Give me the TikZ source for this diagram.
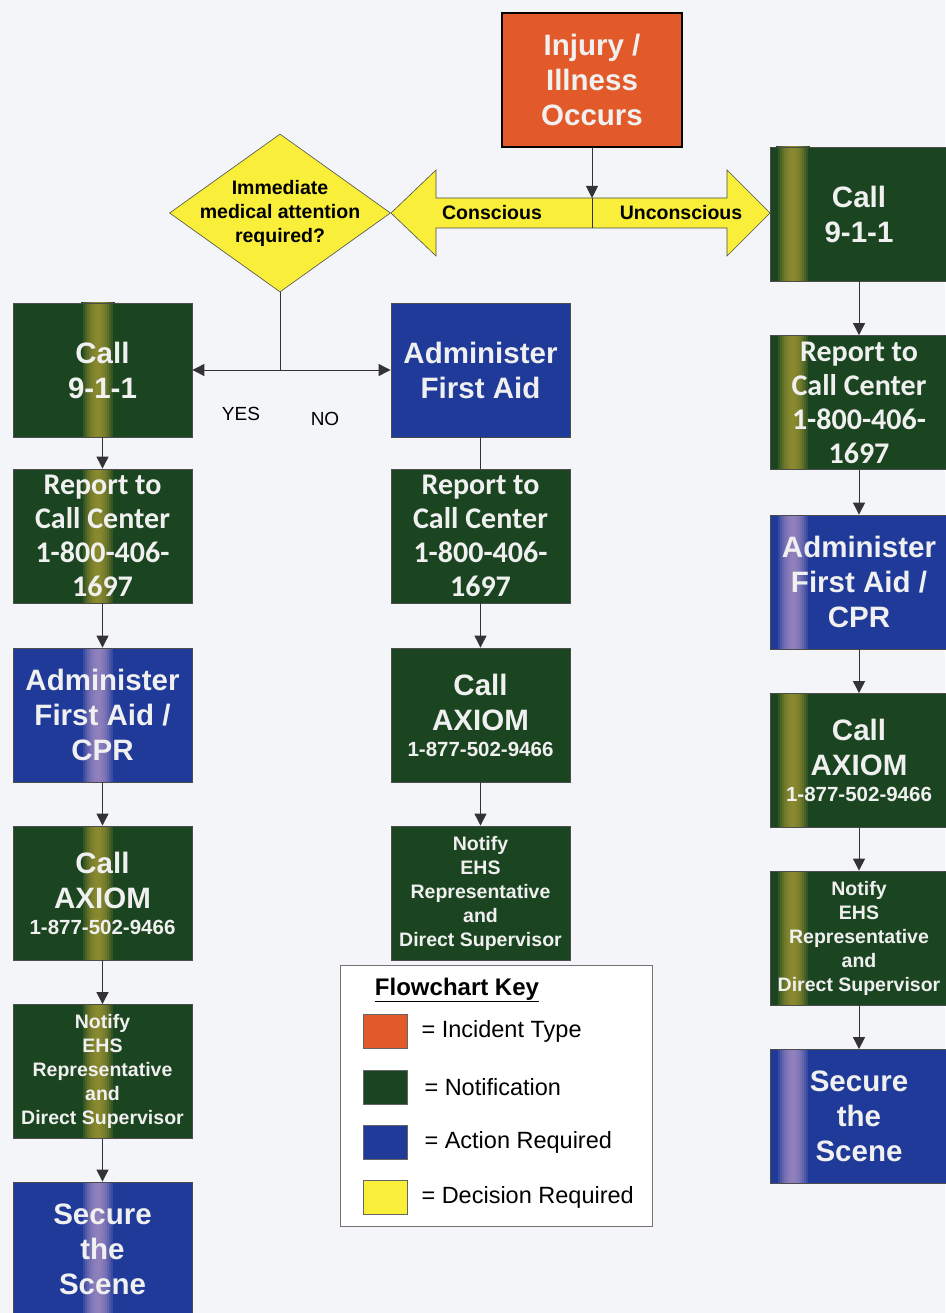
\documentclass[tikz,border=0pt]{standalone}
\usepackage{fontspec}
\setmainfont{Liberation Sans}
\newfontfamily\calibfont{Carlito}
\usepackage{tikz}
\usetikzlibrary{arrows.meta,shapes.geometric,calc}

\definecolor{bggray}{HTML}{F4F5F8}
\definecolor{incorange}{HTML}{E35A2A}
\definecolor{notegreen}{HTML}{1B4520}
\definecolor{actblue}{HTML}{1F3A98}
\definecolor{decyellow}{HTML}{F9EF3A}
\definecolor{stripgreen}{HTML}{8A892E}
\definecolor{stripblue}{HTML}{9080BC}
\definecolor{boxtext}{HTML}{F0F0F0}

% soft vertical band inside a box: base, band colour, anchor, offset
\newcommand{\bandfill}[4]{%
  \foreach \i in {0,...,16}{%
    \pgfmathtruncatemacro\mixp{100-((\i-8)/8)^2*100}%
    \fill[#2!\mixp!#1] ([xshift=#4pt+\i*2pt]path picture bounding box.#3)
      rectangle ++(2.2pt,140pt);
  }}

\tikzset{
  box/.style={rectangle, draw=black!70, line width=0.8pt, minimum width=179pt,
    minimum height=134pt, inner sep=0pt, text=boxtext, align=center,
    font=\bfseries\fontsize{29.5}{35}\selectfont},
  note/.style={box, fill=notegreen},
  act/.style={box, fill=actblue},
  incident/.style={box, fill=incorange, draw=black, line width=1.6pt, minimum width=180pt},
  rcol/.style={minimum width=178pt},
  report/.style={font=\calibfont\bfseries\fontsize{30}{34}\selectfont},
  notify/.style={font=\bfseries\fontsize{19.5}{24}\selectfont},
  greenmid/.style={path picture={\bandfill{notegreen}{stripgreen}{south}{-22}}},
  bluemid/.style={path picture={\bandfill{actblue}{stripblue}{south}{-22}}},
  greenside/.style={path picture={\bandfill{notegreen}{stripgreen}{south west}{6}}},
  blueside/.style={path picture={\bandfill{actblue}{stripblue}{south west}{6}}},
  decision/.style={diamond, draw=black!70, line width=0.6pt, fill=decyellow, aspect=1.4,
    minimum width=221pt, minimum height=158pt, inner sep=0pt},
  dectext/.style={align=center, font=\bfseries\fontsize{19.5}{24}\selectfont},
  flow/.style={draw=black!80, line width=0.9pt, -{Triangle[length=12pt,width=12pt]}},
  plain/.style={draw=black!80, line width=0.9pt},
  tag/.style={font=\fontsize{19}{22}\selectfont},
  swatch/.style={rectangle, draw=black!60, line width=0.6pt, minimum width=44pt, minimum height=34pt, inner sep=0pt},
  keytext/.style={anchor=west, font=\fontsize{23.5}{26}\selectfont}
}

\newcommand{\phonenum}{{\fontsize{20.5}{24}\selectfont 1-877-502-9466}}

\begin{document}
\begin{tikzpicture}[x=1pt,y=-1pt]
  \fill[bggray] (0,0) rectangle (945,1313);
  \useasboundingbox (0,0) rectangle (945,1313);

  % incident and the two ways
  \node[incident] (injury) at (592,80) {Injury /\\Illness\\Occurs};
  \draw[fill=decyellow, draw=black!70, line width=0.6pt] (391,213) -- (436,170) -- (436,198) -- (727,198)
    -- (727,170) -- (770,213) -- (727,256) -- (727,228) -- (436,228) -- (436,256) -- cycle;
  \coordinate (split) at (592,198);
  \coordinate (splitlow) at (592,228);
  \draw[plain, line width=0.6pt] (split) -- (splitlow);
  \node[dectext] (consc) at (492,213) {Conscious};
  \node[dectext] (unconsc) at (681,213) {Unconscious};
  \draw[flow] (injury.south) -- (split);

  \node[decision] (ask) at (280,213) {};
  \node[dectext] (asktext) at (ask) {Immediate\\medical attention\\required?};

  % left column
  \node[note, greenmid] (call1) at (102.5,370) {Call\\9-1-1};
  \node[note, greenmid, report] (report1) at (102.5,536) {Report to\\Call Center\\1-800-406-\\1697};
  \node[act, bluemid] (aid1) at (102.5,715) {Administer\\First Aid /\\CPR};
  \node[note, greenmid] (axiom1) at (102.5,893) {Call\\AXIOM\\[-9pt]\phonenum};
  \node[note, greenmid, notify] (notify1) at (102.5,1071.5) {Notify\\EHS\\Representative\\and\\Direct Supervisor};
  \node[act, bluemid] (secure1) at (102.5,1249) {Secure\\the\\Scene};

  % middle column
  \node[act] (aid2) at (480.5,370) {Administer\\First Aid};
  \node[note, report] (report2) at (480.5,536) {Report to\\Call Center\\1-800-406-\\1697};
  \node[note] (axiom2) at (480.5,715) {Call\\AXIOM\\[-9pt]\phonenum};
  \node[note, notify] (notify2) at (480.5,893) {Notify\\EHS\\Representative\\and\\Direct Supervisor};

  % right column
  \node[note, rcol, greenside] (call3) at (859,214) {Call\\9-1-1};
  \node[note, rcol, greenside, report] (report3) at (859,402.5) {Report to\\Call Center\\1-800-406-\\1697};
  \node[act, rcol, blueside] (aid3) at (859,582) {Administer\\First Aid /\\CPR};
  \node[note, rcol, greenside] (axiom3) at (859,760.5) {Call\\AXIOM\\[-9pt]\phonenum};
  \node[note, rcol, greenside, notify] (notify3) at (859,938) {Notify\\EHS\\Representative\\and\\Direct Supervisor};
  \node[act, rcol, blueside] (secure3) at (859,1116.5) {Secure\\the\\Scene};

  % yes / no
  \coordinate (fork) at (280,370);
  \draw[plain] (ask.south) -- (fork);
  \draw[flow] (fork) -- (call1.east);
  \draw[flow] (fork) -- (aid2.west);
  \node[tag] (yes) at (241,414) {YES};
  \node[tag] (no) at (325,419) {NO};

  \draw[flow] (call1) -- (report1);
  \draw[flow] (report1) -- (aid1);
  \draw[flow] (aid1) -- (axiom1);
  \draw[flow] (axiom1) -- (notify1);
  \draw[flow] (notify1) -- (secure1);

  \draw[plain] (aid2) -- (report2);
  \draw[flow] (report2) -- (axiom2);
  \draw[flow] (axiom2) -- (notify2);

  \draw[flow] (call3) -- (report3);
  \draw[flow] (report3) -- (aid3);
  \draw[flow] (aid3) -- (axiom3);
  \draw[flow] (axiom3) -- (notify3);
  \draw[flow] (notify3) -- (secure3);

  % key
  \node[rectangle, draw=black!55, line width=0.8pt, fill=white, minimum width=312pt, minimum height=261pt] (key) at (496,1095.5) {};
  \node[font=\bfseries\fontsize{24}{28}\selectfont] (keyhead) at (457,990) {\underline{Flowchart Key}};
  \node[swatch, fill=incorange] (sw1) at (385,1031) {};
  \node[keytext] (kt1) at (418,1031) {= Incident Type};
  \node[swatch, fill=notegreen] (sw2) at (385,1087) {};
  \node[keytext] (kt2) at (421,1087) {= Notification};
  \node[swatch, fill=actblue] (sw3) at (385,1142.5) {};
  \node[keytext] (kt3) at (421,1142.5) {= Action Required};
  \node[swatch, fill=decyellow] (sw4) at (385,1197.5) {};
  \node[keytext] (kt4) at (418,1197.5) {= Decision Required};
\end{tikzpicture}
\end{document}
